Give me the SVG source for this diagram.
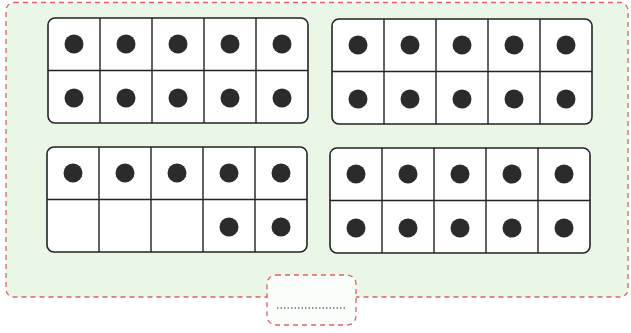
<svg xmlns="http://www.w3.org/2000/svg" width="631" height="333" viewBox="0 0 631 333">
<style>
.bg{fill:#eaf6e6;stroke:#e0606e;stroke-width:1.3;stroke-dasharray:5 4}
.tab{fill:#fbfdfa;stroke:#e0606e;stroke-width:1.3;stroke-dasharray:5 4}
.frame{fill:#ffffff;stroke:#222;stroke-width:1.6}
.grid{stroke:#222;stroke-width:1.4;fill:none}
.dot{fill:#2b2b2b}
.blank{stroke:#6f6f80;stroke-width:1.3;stroke-dasharray:1.5 2;fill:none}
</style>
<defs>
<g id="frameShape">
<rect class="frame" x="0" y="0" width="260" height="105" rx="7"/>
<path class="grid" d="M0 52.5H260M52 0V105M104 0V105M156 0V105M208 0V105"/>
</g>
<g id="row5">
<circle class="dot" cx="26" cy="0" r="9.5"/>
<circle class="dot" cx="78" cy="0" r="9.5"/>
<circle class="dot" cx="130" cy="0" r="9.5"/>
<circle class="dot" cx="182" cy="0" r="9.5"/>
<circle class="dot" cx="234" cy="0" r="9.5"/>
</g>
</defs>
<rect class="bg" x="6" y="2.5" width="622" height="294.5" rx="8"/>
<g id="answer-box">
<rect class="tab" x="267" y="275" width="89" height="50" rx="9"/>
<path class="blank" d="M277 308H347"/>
</g>
<g id="frame-top-left" transform="translate(48,18)">
<use href="#frameShape"/>
<use href="#row5" y="26"/>
<use href="#row5" y="80"/>
</g>
<g id="frame-top-right" transform="translate(332,19)">
<use href="#frameShape"/>
<use href="#row5" y="26"/>
<use href="#row5" y="80"/>
</g>
<g id="frame-bottom-left" transform="translate(47,147)">
<use href="#frameShape"/>
<use href="#row5" y="26"/>
<circle class="dot" cx="182" cy="80" r="9.5"/>
<circle class="dot" cx="234" cy="80" r="9.5"/>
</g>
<g id="frame-bottom-right" transform="translate(330,148)">
<use href="#frameShape"/>
<use href="#row5" y="26"/>
<use href="#row5" y="80"/>
</g>
<g id="connectors"/>
</svg>
